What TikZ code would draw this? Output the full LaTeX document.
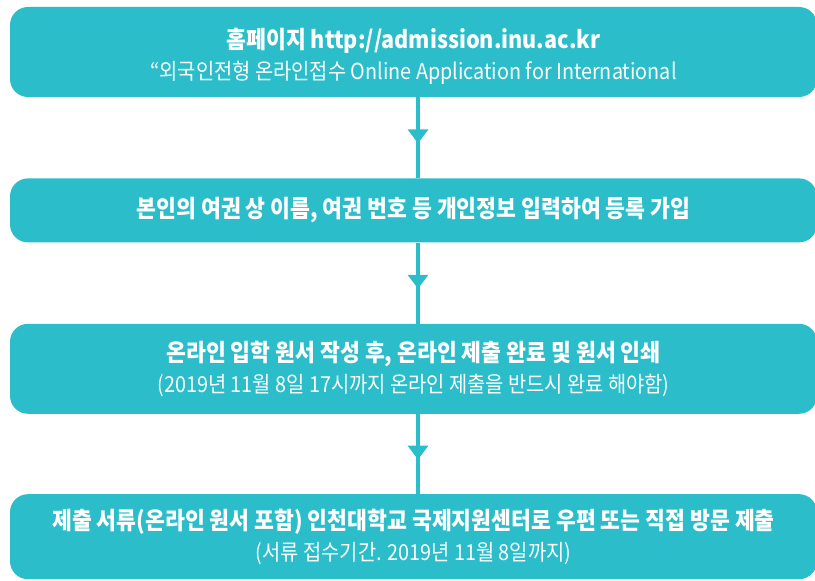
\documentclass[tikz,border=0pt]{standalone}
\usepackage{fontspec}
\setmainfont{Noto Sans CJK KR}[FakeStretch=0.9]
\usepackage{tikz}
\usetikzlibrary{arrows.meta,positioning,decorations.markings}
\definecolor{inuteal}{RGB}{43,189,201}
\newcommand{\boxtitle}[1]{{\bfseries\fontsize{24}{31}\selectfont #1}}
\newcommand{\boxnote}[1]{{\fontsize{22}{31}\selectfont #1}}
\tikzset
{
    stepbox/.style  = {rectangle, rounded corners=18pt, fill=inuteal, text=white, align=center, minimum width=807pt, inner sep=0pt, font=\fontsize{22}{31}\selectfont},
    flowline/.style = {draw=inuteal, line width=3.3pt, postaction={decorate}, decoration={markings, mark=at position 0.57 with {\arrow[inuteal]{Triangle[width=20pt,length=14pt]}}}}
}

\begin{document}
\begin{tikzpicture}
	[x=1pt, y=1pt, node distance=81pt]
	\useasboundingbox (0,0) rectangle (815,581);
	\node[stepbox, minimum height=90pt] (homepage) at (413.5,529)
		{\rule{0pt}{29pt}\boxtitle{홈페이지 http://admission.inu.ac.kr}\\ \boxnote{“외국인전형 온라인접수 Online Application for International}};
	\node[stepbox, minimum height=64pt, below=of homepage] (signup)
		{\boxtitle{본인의 여권 상 이름, 여권 번호 등 개인정보 입력하여 등록 가입}};
	\node[stepbox, minimum height=90pt, below=of signup] (apply)
		{\boxtitle{온라인 입학 원서 작성 후, 온라인 제출 완료 및 원서 인쇄}\\ \boxnote{(2019년 11월 8일 17시까지 온라인 제출을 반드시 완료 해야함)}};
	\node[stepbox, minimum height=85pt, below=80pt of apply] (submit)
		{\boxtitle{제출 서류(온라인 원서 포함) 인천대학교 국제지원센터로 우편 또는 직접 방문 제출}\\ \boxnote{(서류 접수기간. 2019년 11월 8일까지)}};
	\draw[flowline] ([xshift=4.5pt]homepage.south) -- ([xshift=4.5pt]signup.north);
	\draw[flowline] ([xshift=4.5pt]signup.south) -- ([xshift=4.5pt]apply.north);
	\draw[flowline] ([xshift=4.5pt]apply.south) -- ([xshift=4.5pt]submit.north);
\end{tikzpicture}
\end{document}
